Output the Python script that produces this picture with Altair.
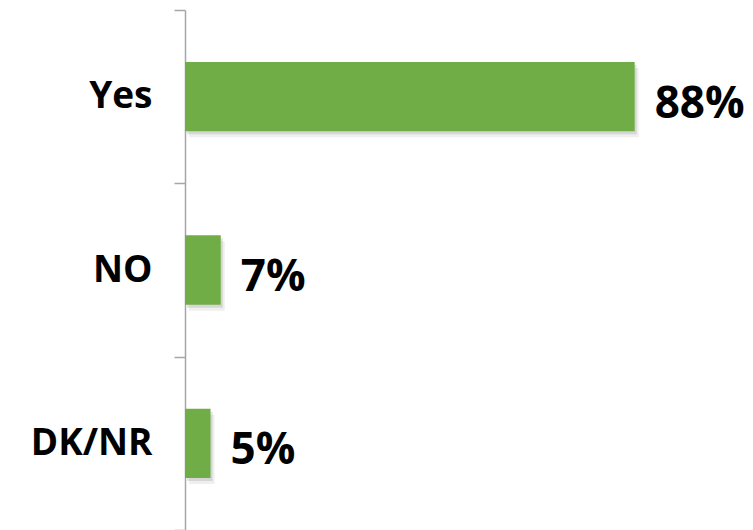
import altair as alt
import pandas as pd

categories = ["Yes", "NO", "DK/NR"]
values = [88, 7, 5]
labels = ["88%", "7%", "5%"]

df = pd.DataFrame({"cat": categories, "val": values, "lab": labels})

y_enc = alt.Y("cat:N", sort=categories,
              scale=alt.Scale(paddingInner=0, paddingOuter=0),
              axis=alt.Axis(title=None, tickBand="extent", domainColor="#A6A6A6",
                            tickColor="#A6A6A6", tickSize=11, domainWidth=1.5, tickWidth=1.5,
                            labelFont="Open Sans", labelFontWeight="bold", labelFontSize=37,
                            labelColor="#000000", labelPadding=22, labelAlign="right"))
x_enc = alt.X("val:Q", scale=alt.Scale(domain=[0, 100]), axis=None)

base = alt.Chart(df)

shadow1 = base.mark_bar(height=alt.RelativeBandSize(0.4), color="#7F7F7F", opacity=0.22,
                        xOffset=2, yOffset=3).encode(x=x_enc, y=y_enc)
shadow2 = base.mark_bar(height=alt.RelativeBandSize(0.4), color="#7F7F7F", opacity=0.12,
                        xOffset=4, yOffset=6).encode(x=x_enc, y=y_enc)
bars = base.mark_bar(height=alt.RelativeBandSize(0.4), color="#70AD47").encode(x=x_enc, y=y_enc)
text = base.mark_text(align="left", baseline="middle", dx=20, dy=8, font="Open Sans",
                      fontWeight="bold", fontSize=44, color="#000000").encode(
    x=x_enc, y=y_enc, text="lab:N")

chart = alt.layer(shadow2, shadow1, bars, text).properties(
    width=511, height=520,
    autosize=alt.AutoSizeParams(type="none"),
    padding={"left": 185, "top": 10, "right": 57, "bottom": 0},
).configure_view(stroke=None)

chart.save("out.html", embed_options={"renderer": "svg", "actions": False})
